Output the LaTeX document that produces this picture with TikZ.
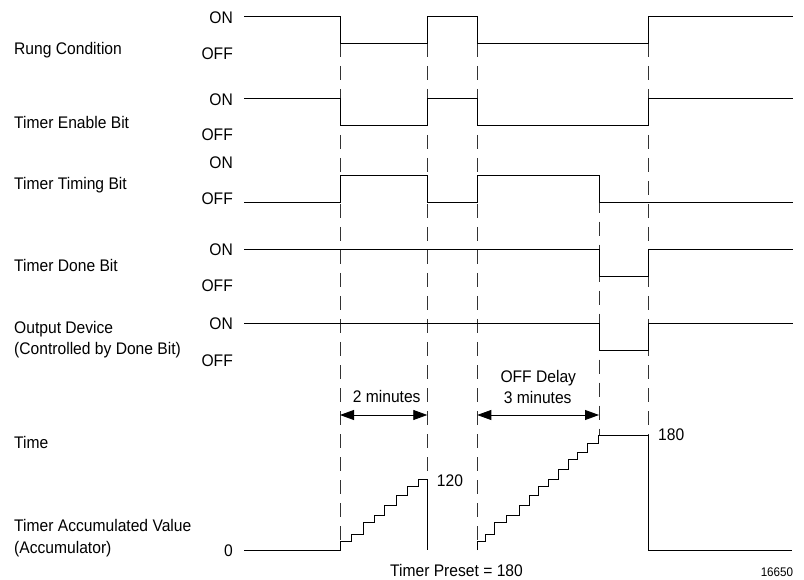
\documentclass[tikz,border=0pt]{standalone}
\usepackage{fontspec}
\setmainfont{Liberation Sans}[FakeStretch=0.93]
\usetikzlibrary{arrows.meta}
\begin{document}
\begin{tikzpicture}[x=1pt,y=-1pt,
  sig/.style={line width=0.9pt,line join=miter},
  dsh/.style={line width=0.8pt,dash pattern=on 14pt off 9pt,black!80},
  lbl/.style={inner sep=0pt,font=\fontsize{16.8}{20}\selectfont},
  lblw/.style={lbl,anchor=base west},
  lble/.style={lbl,anchor=base east},
  lblc/.style={lbl,anchor=base},
  dim/.style={line width=0.8pt,{Triangle[length=14pt,width=10pt]}-{Triangle[length=14pt,width=10pt]}}]
\useasboundingbox (0,0) rectangle (804,580);

% dashed time markers
\draw[dsh] (340,43) -- (340,541);
\draw[dsh] (427.3,43) -- (427.3,479);
\draw[dsh] (477.3,43) -- (477.3,541.7);
\draw[dsh] (599,175.7) -- (599,435.7);
\draw[dsh] (648.7,43) -- (648.7,435.7);

% Rung condition
\draw[sig] (244,16) -- (340,16) -- (340,43) -- (427.3,43) -- (427.3,16) -- (477.3,16) -- (477.3,43) -- (648.7,43) -- (648.7,16) -- (793,16);
% Timer enable bit
\draw[sig] (244,98.3) -- (340,98.3) -- (340,125) -- (427.3,125) -- (427.3,98.3) -- (477.3,98.3) -- (477.3,125) -- (648.7,125) -- (648.7,98.3) -- (793,98.3);
% Timer timing bit
\draw[sig] (244,202) -- (340,202) -- (340,175.7) -- (427.3,175.7) -- (427.3,202) -- (477.3,202) -- (477.3,175.7) -- (599,175.7) -- (599,202) -- (793,202);
% Timer done bit
\draw[sig] (244,249.3) -- (599,249.3) -- (599,276) -- (648.7,276) -- (648.7,249.3) -- (793,249.3);
% Output device
\draw[sig] (244,323.3) -- (599,323.3) -- (599,350) -- (648.7,350) -- (648.7,323.3) -- (793,323.3);

% Accumulator
\draw[sig] (244,550) -- (340,550) -- (340,541)
  -- (351.7,541) -- (351.7,534.3) -- (363.3,534.3) -- (363.3,522.7)
  -- (374,522.7) -- (374,515.7) -- (384,515.7) -- (384,505.3)
  -- (396,505.3) -- (396,495.7) -- (407.7,495.7) -- (407.7,486)
  -- (418.3,486) -- (418.3,479) -- (427.3,479) -- (427.3,550);
\draw[sig] (477.3,550) -- (477.3,541.7)
  -- (485,541.7) -- (485,534.3) -- (494.3,534.3) -- (494.3,522.7)
  -- (506.7,522.7) -- (506.7,515.7) -- (519,515.7) -- (519,505.3)
  -- (529,505.3) -- (529,495.7) -- (538.3,495.7) -- (538.3,486)
  -- (548.3,486) -- (548.3,479) -- (558.3,479) -- (558.3,469)
  -- (568.3,469) -- (568.3,459.3) -- (577.7,459.3) -- (577.7,452.3)
  -- (587.7,452.3) -- (587.7,443.3) -- (598.3,443.3) -- (598.3,435.7)
  -- (648.7,435.7) -- (648.7,550) -- (792,550);

% dimension arrows
\coordinate (a1) at (340,415);
\coordinate (a2) at (427.3,415);
\coordinate (a3) at (477.3,415);
\coordinate (a4) at (599,415);
\draw[dim] (a1) -- (a2);
\draw[dim] (a3) -- (a4);

% left labels
\node[lblw] (lrung) at (14,54.3) {Rung Condition};
\node[lblw] (lena) at (14,129) {Timer Enable Bit};
\node[lblw] (ltim) at (14,190) {Timer Timing Bit};
\node[lblw] (ldone) at (14,271.7) {Timer Done Bit};
\node[lblw] (lout1) at (14,333.3) {Output Device};
\node[lblw] (lout2) at (14,355) {(Controlled by Done Bit)};
\node[lblw] (ltime) at (14,448.3) {Time};
\node[lblw] (lacc1) at (14,531.7) {Timer Accumulated Value};
\node[lblw] (lacc2) at (14,553.3) {(Accumulator)};

% ON / OFF labels
\node[lble] (on1) at (233,24) {ON};
\node[lble] (off1) at (233,60) {OFF};
\node[lble] (on2) at (233,106) {ON};
\node[lble] (off2) at (233,140.7) {OFF};
\node[lble] (on3) at (233,168.3) {ON};
\node[lble] (off3) at (233,205) {OFF};
\node[lble] (on4) at (233,255.7) {ON};
\node[lble] (off4) at (233,291.7) {OFF};
\node[lble] (on5) at (233,330) {ON};
\node[lble] (off5) at (233,366.7) {OFF};
\node[lble] (zero) at (233,556.7) {0};

% other texts
\node[lblc] (twomin) at (386.7,402.7) {2 minutes};
\node[lblc] (offd) at (538.3,382.7) {OFF Delay};
\node[lblc] (threemin) at (537.7,403.3) {3 minutes};
\node[lblw] (v120) at (436.7,486) {120};
\node[lblw] (v180) at (658,440) {180};
\node[lblc] (preset) at (456.5,576.7) {Timer Preset = 180};
\node[inner sep=0pt,anchor=base east,font=\fontsize{12.5}{15}\selectfont] (fig) at (793.3,576.7) {16650};
\end{tikzpicture}
\end{document}
